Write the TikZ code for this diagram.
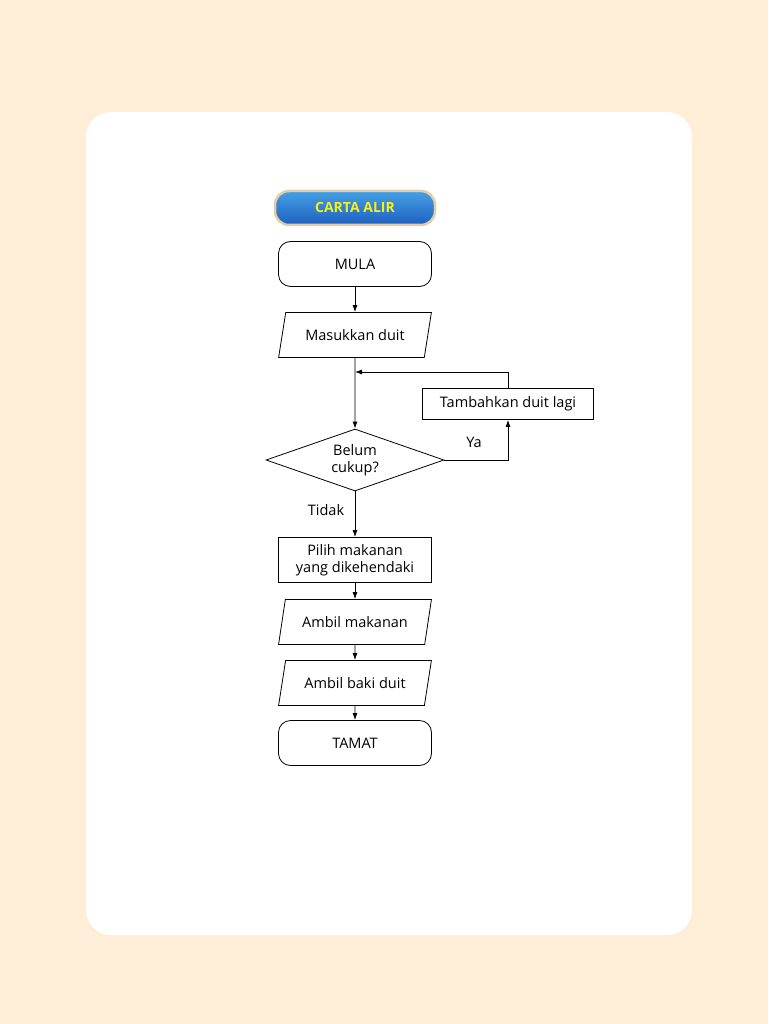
\documentclass[tikz,border=0pt]{standalone}
\usepackage{fontspec}
\setmainfont{Open Sans}
\usetikzlibrary{shapes.geometric,arrows.meta}
\definecolor{cream}{RGB}{254,237,215}
\definecolor{pillblue}{RGB}{30,95,190}
\definecolor{pilllight}{RGB}{70,160,230}
\definecolor{pillyellow}{RGB}{250,240,20}
\definecolor{pillrim}{RGB}{225,205,170}
\begin{document}
\begin{tikzpicture}[x=1pt,y=-1pt,
  every node/.style={font=\fontsize{14.5}{17}\selectfont},
  terminal/.style={draw, thick, rounded corners=12pt, minimum width=153pt, minimum height=45pt},
  io/.style={draw, thick, trapezium, trapezium left angle=73, trapezium right angle=107, trapezium stretches=true, minimum width=153pt, minimum height=45pt},
  proses/.style={draw, thick, minimum width=153pt, minimum height=45pt, align=center, inner sep=1pt},
  keputusan/.style={draw, thick, diamond, aspect=2.9, minimum width=178pt, minimum height=62pt, inner sep=0pt, align=center, font=\fontsize{14.5}{17}\selectfont},
  anak/.style={-{Latex[length=7pt,width=5pt]}, thick}]
\fill[cream] (0,0) rectangle (768,1024);
\useasboundingbox (0,0) rectangle (768,1024);
\fill[white, rounded corners=25pt] (86,112) rectangle (692,935);
\node[draw=pillrim, line width=2.5pt, rounded corners=14pt, top color=pilllight, bottom color=pillblue, minimum width=160pt, minimum height=34pt, text=pillyellow, font=\fontsize{14}{16}\selectfont\bfseries] (tajuk) at (355,208) {CARTA ALIR};
\node[terminal] (mula) at (355,264) {MULA};
\node[io] (masuk) at (355,335) {Masukkan duit};
\node[keputusan] (cukup) at (355,460) {Belum\\cukup?};
\node[proses, minimum width=171pt, minimum height=31pt] (tambah) at (508,404) {Tambahkan duit lagi};
\node[proses] (pilih) at (355,560) {Pilih makanan\\yang dikehendaki};
\node[io] (ambil) at (355,622) {Ambil makanan};
\node[io] (baki) at (355,683) {Ambil baki duit};
\node[terminal] (tamat) at (355,743) {TAMAT};
\coordinate (sambung) at (355,372);
\draw[anak] (mula) -- (masuk);
\draw[anak] (masuk) -- (cukup);
\draw[anak] (tambah.north) |- (sambung);
\draw[anak] (cukup.east) -| (tambah.south);
\draw[anak] (cukup) -- (pilih);
\draw[anak] (pilih) -- (ambil);
\draw[anak] (ambil) -- (baki);
\draw[anak] (baki) -- (tamat);
\node (ya) at (474,442) {Ya};
\node (tidak) at (326,510) {Tidak};
\end{tikzpicture}
\end{document}
